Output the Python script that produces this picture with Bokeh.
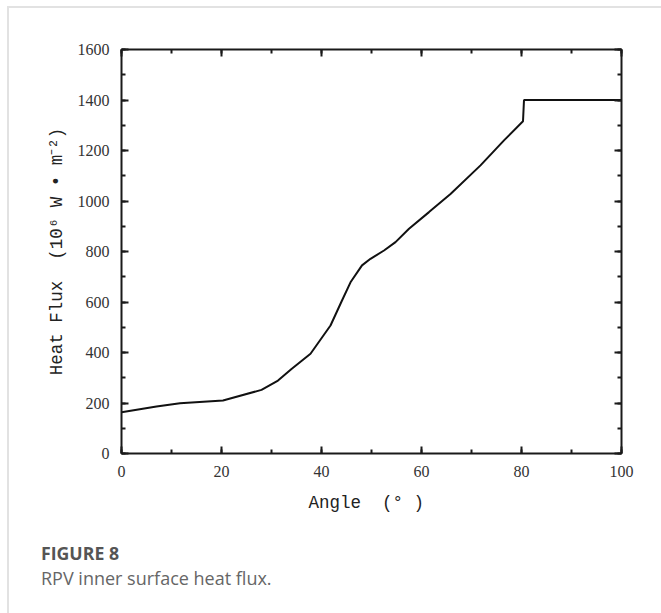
from bokeh.plotting import figure
from bokeh.models import (Range1d, LinearAxis, SingleIntervalTicker, Div,
                          InlineStyleSheet, CustomJSTickFormatter)
from bokeh.layouts import column
from bokeh.embed import file_html
from bokeh.resources import INLINE

angle = [0, 7, 11.7, 20.3, 28, 31.3, 34, 37.8, 41.8, 44.1, 45.8, 48.1, 49.8,
         52.5, 54.8, 57.5, 61.5, 65.8, 71.8, 76.5, 80.3, 80.5, 100]
heat_flux = [163, 186, 199, 210, 252, 289, 335, 395, 507, 606, 678, 745, 771,
             804, 837, 890, 956, 1028, 1141, 1240, 1316, 1400, 1400]

NB = "\u00a0"
x_label = "Angle" + NB * 2 + "(°" + NB + ")" + NB
y_label = "Heat" + NB + "Flux" + NB * 2 + "(10⁶" + NB + "W" + NB + "•" + NB + "m⁻²)"
fig_title = "FIGURE 8"
fig_caption = "RPV inner surface heat flux."

W, H = 661, 613
PH = 530            # height of the plot canvas
FL, FB = 121, 453   # frame left / bottom in canvas pixels

p = figure(width=W, height=PH, output_backend="svg", toolbar_location=None,
           x_range=Range1d(0, 100), y_range=Range1d(0, 1600),
           min_border_left=FL, min_border_right=40, min_border_top=49,
           min_border_bottom=PH - FB, x_axis_location=None, y_axis_location=None)
p.grid.visible = False
p.outline_line_color = None
p.background_fill_color = "white"
p.border_fill_color = "white"

tick_font = "Liberation Serif"
lab_font = "Liberation Mono"
axcol = "#1a1a1a"

def style(ax, show_labels):
    ax.axis_line_width = 2
    ax.axis_line_color = axcol
    ax.major_tick_in = 7
    ax.major_tick_out = 0
    ax.minor_tick_in = 4
    ax.minor_tick_out = 0
    ax.major_tick_line_width = 2
    ax.minor_tick_line_width = 2
    ax.major_tick_line_color = axcol
    ax.minor_tick_line_color = axcol
    ax.major_label_text_font = tick_font
    ax.major_label_text_font_size = "16px"
    ax.major_label_text_color = "#333333"
    ax.major_label_standoff = 12
    ax.axis_label_text_font = lab_font
    ax.axis_label_text_font_size = "17.5px"
    ax.axis_label_text_font_style = "normal"
    ax.axis_label_text_color = "#222222"
    if not show_labels:
        ax.formatter = CustomJSTickFormatter(code="return ''")
        ax.major_label_standoff = 0

xb = LinearAxis(ticker=SingleIntervalTicker(interval=20, num_minor_ticks=2),
                axis_label=x_label)
style(xb, True)
xb.axis_label_standoff = 13
p.add_layout(xb, "below")

xt = LinearAxis(ticker=SingleIntervalTicker(interval=20, num_minor_ticks=2))
style(xt, False)
p.add_layout(xt, "above")

yl = LinearAxis(ticker=SingleIntervalTicker(interval=200, num_minor_ticks=2),
                axis_label=y_label)
style(yl, True)
yl.axis_label_standoff = 8
p.add_layout(yl, "left")

yr = LinearAxis(ticker=SingleIntervalTicker(interval=200, num_minor_ticks=2))
style(yr, False)
p.add_layout(yr, "right")

p.line(angle, heat_flux, line_width=2, line_color="#111111")

caption_html = (
    '<div style="position:relative;width:661px;height:83px;'
    'font-family:\'Open Sans\',sans-serif;">'
    '<div style="position:absolute;left:41px;top:15px;font-size:17.7px;'
    'line-height:17.7px;font-weight:bold;color:#555555;white-space:nowrap;">'
    + fig_title + '</div>'
    '<div style="position:absolute;left:41px;top:39px;font-size:18px;'
    'line-height:18px;color:#666666;white-space:nowrap;">'
    + fig_caption + '</div></div>'
)
cap = Div(text=caption_html, width=W, height=H - PH, margin=0)

layout = column(p, cap, spacing=0, width=W, height=H)
layout.stylesheets = [InlineStyleSheet(css="""
:host { position: relative; background: white; }
:host::after { content: ""; position: absolute; left: 7px; top: 6px;
  right: 0; bottom: 0; border-left: 2px solid #e2e2e2;
  border-top: 2px solid #e2e2e2; pointer-events: none; }
""")]

open("out.html", "w").write(file_html(layout, INLINE))
